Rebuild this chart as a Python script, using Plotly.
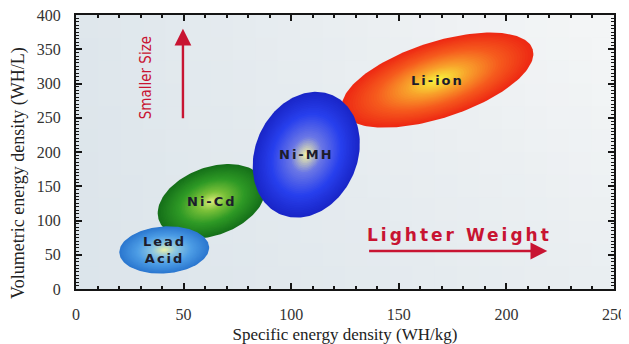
import numpy as np
import plotly.graph_objects as go

# ---- data ----
chemistries = ["Li-ion", "Ni-Cd", "Ni-MH", "Lead Acid"]
labels = ["Li-ion", "Ni-Cd", "Ni-MH", "Lead<br>Acid"]
specific_energy = [168, 63, 107, 41]      # WH/kg (centre of region)
volumetric_energy = [305, 128, 196, 57]   # WH/L (centre of region)
x_ticks = [0, 50, 100, 150, 200, 250]
y_ticks = [0, 50, 100, 150, 200, 250, 300, 350, 400]

# ---- styles (pixel sizes of the regions) ----
W, H = 621, 336          # page body has an 8px margin
ML, MR, MT, MB = 68, 15, 7, 55
PW, PH = W - ML - MR, H - MT - MB
XS = PW / 250.0
YS = PH / 400.0
shape_px = {  # semi-major, semi-minor, angle(deg)
    "Li-ion": (100, 38, 18),
    "Ni-Cd": (56, 34, 20),
    "Ni-MH": (65, 51, 66),
    "Lead Acid": (45, 23.5, 4),
}
grad = {
    "Li-ion": [(0, "#ee2a14"), (0.35, "#f65a1e"), (0.7, "#f9a42c"), (1.0, "#f8f23e")],
    "Ni-Cd": [(0, "#16701a"), (0.4, "#2f9a26"), (0.75, "#7cc23a"), (1.0, "#d6ea78")],
    "Ni-MH": [(0, "#1a26c8"), (0.35, "#2840ee"), (0.72, "#6c78e6"), (1.0, "#f2f2a8")],
    "Lead Acid": [(0, "#2c78d0"), (0.4, "#4e9ee6"), (0.75, "#90c8e0"), (1.0, "#e6eeaa")],
}


def hex2rgb(h):
    h = h.lstrip("#")
    return np.array([int(h[i:i + 2], 16) for i in (0, 2, 4)], float)


def colour_at(stops, f):
    for (f0, c0), (f1, c1) in zip(stops[:-1], stops[1:]):
        if f <= f1:
            t = (f - f0) / (f1 - f0) if f1 > f0 else 0
            c = hex2rgb(c0) * (1 - t) + hex2rgb(c1) * t
            return "rgb(%d,%d,%d)" % tuple(c)
    c = hex2rgb(stops[-1][1])
    return "rgb(%d,%d,%d)" % tuple(c)


fig = go.Figure()

# soft background gradient of the plotting area (lighter towards the top right)
bg_dark, bg_light = hex2rgb("#d8e2e9"), hex2rgb("#f3f5f6")
NX, NY = 24, 12
shapes = []
for ix in range(NX):
    for iy in range(NY):
        u = (ix + 0.5) / NX
        v = (iy + 0.5) / NY
        w = min(1.0, max(0.0, 0.15 + 0.5 * u + 0.35 * v * u + 0.1 * v))
        c = bg_dark * (1 - w) + bg_light * w
        shapes.append(dict(type="rect", xref="x domain", yref="y domain",
                           x0=ix / NX, x1=(ix + 1) / NX + 0.002,
                           y0=iy / NY, y1=(iy + 1) / NY + 0.002,
                           fillcolor="rgb(%d,%d,%d)" % tuple(c), line=dict(width=0),
                           layer="below"))

order = ["Li-ion", "Ni-Cd", "Ni-MH", "Lead Acid"]
NL = 36
tt = np.linspace(0, 2 * np.pi, 160)
for name in order:
    i = chemistries.index(name)
    cx, cy = specific_energy[i], volumetric_energy[i]
    a, b, ang = shape_px[name]
    th = np.radians(ang)
    for k in range(NL):
        s = 1 - k / NL
        f = k / (NL - 1)
        px = s * a * np.cos(tt)
        py = s * b * np.sin(tt)
        rx = px * np.cos(th) - py * np.sin(th)
        ry = px * np.sin(th) + py * np.cos(th)
        fig.add_trace(go.Scatter(
            x=cx + rx / XS, y=cy + ry / YS, mode="lines", fill="toself",
            fillcolor=colour_at(grad[name], f), line=dict(width=0),
            hoverinfo="skip", showlegend=False))
    fig.add_annotation(x=cx, y=cy,
                       text='<span style="letter-spacing:2px"><b>%s</b></span>' % labels[i],
                       showarrow=False,
                       font=dict(family="DejaVu Sans", size=13, color="#1c1c2c"))

red = "#c81432"
# arrows and captions
fig.add_annotation(x=49.7, y=380, ax=49.7, ay=247, xref="x", yref="y", axref="x", ayref="y",
                   text="", showarrow=True, arrowhead=2, arrowsize=1.4, arrowwidth=2.4,
                   arrowcolor=red)
fig.add_annotation(x=32.5, y=309, text="Smaller Size", textangle=-90, showarrow=False,
                   font=dict(family="DejaVu Sans Condensed", size=15, color=red))
fig.add_annotation(x=219, y=55.5, ax=135.5, ay=55.5, xref="x", yref="y", axref="x", ayref="y",
                   text="", showarrow=True, arrowhead=2, arrowsize=1.4, arrowwidth=2.4,
                   arrowcolor=red)
fig.add_annotation(x=178, y=79,
                   text='<span style="letter-spacing:3px"><b>Lighter Weight</b></span>',
                   showarrow=False,
                   font=dict(family="DejaVu Sans", size=17, color=red))

# y-axis title (placed as in the reference, a little below the axis centre)
fig.add_annotation(xref="paper", yref="paper", x=-(76 - 18) / PW, y=(289 - 173) / PH,
                   text="Volumetric energy density (WH/L)", textangle=-90, showarrow=False,
                   xanchor="center", yanchor="middle",
                   font=dict(family="Liberation Serif", size=18, color="#222"))

axis_common = dict(showline=True, linecolor="#151515", linewidth=2, mirror="ticks",
                   ticks="inside", ticklen=6, tickwidth=2, tickcolor="#151515",
                   showgrid=False, zeroline=False, automargin=False,
                   ticklabelstandoff=10, ticklabeloverflow="allow",
                   tickfont=dict(family="Liberation Serif", size=16, color="#333"))
fig.update_xaxes(range=[0, 250], tickvals=x_ticks, **axis_common,
                 minor=dict(ticks="inside", ticklen=3, tickwidth=1.5, dtick=10,
                            tickcolor="#151515"),
                 title=dict(text="Specific energy density (WH/kg)", standoff=7,
                            font=dict(family="Liberation Serif", size=17, color="#222")))
fig.update_yaxes(range=[0, 400], tickvals=y_ticks, **axis_common,
                 minor=dict(ticks="inside", ticklen=3, tickwidth=1.2, dtick=5,
                            tickcolor="#151515"))
fig.update_layout(width=W, height=H, margin=dict(l=ML, r=MR, t=MT, b=MB),
                  paper_bgcolor="white", plot_bgcolor="#e2e9ee", showlegend=False,
                  shapes=shapes)
fig.write_html("out.html")
